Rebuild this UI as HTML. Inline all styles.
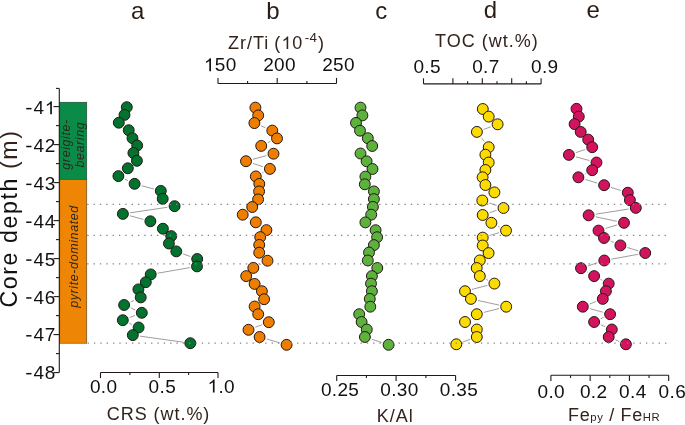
<!DOCTYPE html>
<html><head><meta charset="utf-8"><style>
html,body{margin:0;padding:0;background:#fff;}
svg{display:block;will-change:transform;}
text{font-family:"Liberation Sans",sans-serif;}
.tl{font-size:19px;fill:#111;letter-spacing:0.35px;}
.at{font-size:18px;fill:#33231b;}
.sub{font-size:11.3px;}
.sup{font-size:13.4px;}
.lt{font-size:24px;fill:#2b1c14;}
.bx{font-size:12.5px;font-style:italic;fill:#30261e;}
.yl{font-size:23.2px;fill:#111;}
</style></head><body>
<svg width="685" height="425" viewBox="0 0 685 425">
<rect width="685" height="425" fill="#fff"/>
<rect x="59.8" y="102.2" width="27" height="77.2" fill="#0a8b47" stroke="#2a2a2a" stroke-width="0.5"/>
<rect x="59.8" y="179.4" width="27" height="163.8" fill="#ee8505" stroke="#2a2a2a" stroke-width="0.5"/>
<text transform="translate(70.4,144.4) rotate(-90)" class="bx" letter-spacing="0.6" text-anchor="middle">greigite-</text>
<text transform="translate(84,144.6) rotate(-90)" class="bx" letter-spacing="0.6" text-anchor="middle">bearing</text>
<text transform="translate(78.4,256.5) rotate(-90)" class="bx" letter-spacing="0.6" text-anchor="middle">pyrite-dominated</text>
<line x1="59.3" y1="88.4" x2="59.3" y2="372.6" stroke="#231815" stroke-width="1.1"/>
<line x1="56" y1="88.4" x2="59.3" y2="88.4" stroke="#231815" stroke-width="1.1"/>
<line x1="53.5" y1="106.6" x2="59.3" y2="106.6" stroke="#231815" stroke-width="1.1"/>
<line x1="56" y1="125.6" x2="59.3" y2="125.6" stroke="#231815" stroke-width="1.1"/>
<rect x="26.2" y="107.9" width="5.3" height="1.5" fill="#111"/>
<text x="33.5 44.8" y="114.25" class="tl">4 </text>
<path transform="translate(44.8 114.25) scale(0.009277 -0.009277)" d="M763 0H583V1098Q440 970 223 883V1050Q520 1190 647 1409H763Z" fill="#111"/>
<line x1="53.5" y1="144.6" x2="59.3" y2="144.6" stroke="#231815" stroke-width="1.1"/>
<line x1="56" y1="163.6" x2="59.3" y2="163.6" stroke="#231815" stroke-width="1.1"/>
<rect x="26.2" y="145.76" width="5.3" height="1.5" fill="#111"/>
<text x="33.5 44.8" y="152.11" class="tl">42</text>
<line x1="53.5" y1="182.6" x2="59.3" y2="182.6" stroke="#231815" stroke-width="1.1"/>
<line x1="56" y1="201.6" x2="59.3" y2="201.6" stroke="#231815" stroke-width="1.1"/>
<rect x="26.2" y="183.62" width="5.3" height="1.5" fill="#111"/>
<text x="33.5 44.8" y="189.97" class="tl">43</text>
<line x1="53.5" y1="220.6" x2="59.3" y2="220.6" stroke="#231815" stroke-width="1.1"/>
<line x1="56" y1="239.6" x2="59.3" y2="239.6" stroke="#231815" stroke-width="1.1"/>
<rect x="26.2" y="221.48" width="5.3" height="1.5" fill="#111"/>
<text x="33.5 44.8" y="227.83" class="tl">44</text>
<line x1="53.5" y1="258.6" x2="59.3" y2="258.6" stroke="#231815" stroke-width="1.1"/>
<line x1="56" y1="277.6" x2="59.3" y2="277.6" stroke="#231815" stroke-width="1.1"/>
<rect x="26.2" y="259.34" width="5.3" height="1.5" fill="#111"/>
<text x="33.5 44.8" y="265.69" class="tl">45</text>
<line x1="53.5" y1="296.6" x2="59.3" y2="296.6" stroke="#231815" stroke-width="1.1"/>
<line x1="56" y1="315.6" x2="59.3" y2="315.6" stroke="#231815" stroke-width="1.1"/>
<rect x="26.2" y="297.2" width="5.3" height="1.5" fill="#111"/>
<text x="33.5 44.8" y="303.55" class="tl">46</text>
<line x1="53.5" y1="334.6" x2="59.3" y2="334.6" stroke="#231815" stroke-width="1.1"/>
<line x1="56" y1="353.6" x2="59.3" y2="353.6" stroke="#231815" stroke-width="1.1"/>
<rect x="26.2" y="335.06" width="5.3" height="1.5" fill="#111"/>
<text x="33.5 44.8" y="341.41" class="tl">47</text>
<line x1="53.5" y1="372.6" x2="59.3" y2="372.6" stroke="#231815" stroke-width="1.1"/>
<rect x="26.2" y="372.92" width="5.3" height="1.5" fill="#111"/>
<text x="33.5 44.8" y="379.27" class="tl">48</text>
<text transform="translate(17.4,218.5) rotate(-90)" class="yl" letter-spacing="1.58" text-anchor="middle">Core depth <tspan fill="#33231b">(m)</tspan></text>
<line x1="100.5" y1="372.5" x2="218" y2="372.5" stroke="#231815" stroke-width="1.1"/>
<line x1="100.5" y1="372.5" x2="100.5" y2="378.1" stroke="#231815" stroke-width="1.1"/>
<line x1="129.9" y1="372.5" x2="129.9" y2="375.1" stroke="#231815" stroke-width="1.1"/>
<line x1="159.3" y1="372.5" x2="159.3" y2="378.1" stroke="#231815" stroke-width="1.1"/>
<line x1="188.6" y1="372.5" x2="188.6" y2="375.1" stroke="#231815" stroke-width="1.1"/>
<line x1="218" y1="372.5" x2="218" y2="378.1" stroke="#231815" stroke-width="1.1"/>
<text x="89.9" y="392.5" class="tl">0.0</text>
<text x="148.6" y="392.5" class="tl">0.5</text>
<text x="207.5" y="392.5" class="tl"> .0</text>
<path transform="translate(207.5 392.5) scale(0.009277 -0.009277)" d="M763 0H583V1098Q440 970 223 883V1050Q520 1190 647 1409H763Z" fill="#111"/>
<line x1="218" y1="83.5" x2="336.5" y2="83.5" stroke="#231815" stroke-width="1.1"/>
<line x1="218" y1="83.5" x2="218" y2="77.9" stroke="#231815" stroke-width="1.1"/>
<line x1="247.6" y1="83.5" x2="247.6" y2="80.9" stroke="#231815" stroke-width="1.1"/>
<line x1="277.2" y1="83.5" x2="277.2" y2="77.9" stroke="#231815" stroke-width="1.1"/>
<line x1="306.9" y1="83.5" x2="306.9" y2="80.9" stroke="#231815" stroke-width="1.1"/>
<line x1="336.5" y1="83.5" x2="336.5" y2="77.9" stroke="#231815" stroke-width="1.1"/>
<text x="203.9" y="71.2" class="tl"> 50</text>
<path transform="translate(203.9 71.2) scale(0.009277 -0.009277)" d="M763 0H583V1098Q440 970 223 883V1050Q520 1190 647 1409H763Z" fill="#111"/>
<text x="263.2" y="71.2" class="tl">200</text>
<text x="322.2" y="71.2" class="tl">250</text>
<line x1="336.7" y1="375.5" x2="455.6" y2="375.5" stroke="#231815" stroke-width="1.1"/>
<line x1="336.7" y1="375.5" x2="336.7" y2="381.1" stroke="#231815" stroke-width="1.1"/>
<line x1="366.4" y1="375.5" x2="366.4" y2="378.1" stroke="#231815" stroke-width="1.1"/>
<line x1="396.1" y1="375.5" x2="396.1" y2="381.1" stroke="#231815" stroke-width="1.1"/>
<line x1="425.9" y1="375.5" x2="425.9" y2="378.1" stroke="#231815" stroke-width="1.1"/>
<line x1="455.6" y1="375.5" x2="455.6" y2="381.1" stroke="#231815" stroke-width="1.1"/>
<text x="320.9" y="396.4" class="tl">0.25</text>
<text x="380.3" y="396.4" class="tl">0.30</text>
<text x="439.8" y="396.4" class="tl">0.35</text>
<line x1="423.5" y1="83.9" x2="541.1" y2="83.9" stroke="#231815" stroke-width="1.1"/>
<line x1="423.5" y1="83.9" x2="423.5" y2="78.3" stroke="#231815" stroke-width="1.1"/>
<line x1="452.9" y1="83.9" x2="452.9" y2="78.3" stroke="#231815" stroke-width="1.1"/>
<line x1="467.6" y1="83.9" x2="467.6" y2="81.3" stroke="#231815" stroke-width="1.1"/>
<line x1="482.3" y1="83.9" x2="482.3" y2="78.3" stroke="#231815" stroke-width="1.1"/>
<line x1="497" y1="83.9" x2="497" y2="81.3" stroke="#231815" stroke-width="1.1"/>
<line x1="511.7" y1="83.9" x2="511.7" y2="78.3" stroke="#231815" stroke-width="1.1"/>
<line x1="526.4" y1="83.9" x2="526.4" y2="81.3" stroke="#231815" stroke-width="1.1"/>
<line x1="541.1" y1="83.9" x2="541.1" y2="78.3" stroke="#231815" stroke-width="1.1"/>
<text x="413.4" y="73.3" class="tl">0.5</text>
<text x="472.2" y="73.3" class="tl">0.7</text>
<text x="531" y="73.3" class="tl">0.9</text>
<line x1="550.9" y1="375.3" x2="668.7" y2="375.3" stroke="#231815" stroke-width="1.1"/>
<line x1="550.9" y1="375.3" x2="550.9" y2="380.9" stroke="#231815" stroke-width="1.1"/>
<line x1="570.53" y1="375.3" x2="570.53" y2="377.9" stroke="#231815" stroke-width="1.1"/>
<line x1="590.16" y1="375.3" x2="590.16" y2="380.9" stroke="#231815" stroke-width="1.1"/>
<line x1="609.79" y1="375.3" x2="609.79" y2="377.9" stroke="#231815" stroke-width="1.1"/>
<line x1="629.42" y1="375.3" x2="629.42" y2="380.9" stroke="#231815" stroke-width="1.1"/>
<line x1="649.05" y1="375.3" x2="649.05" y2="377.9" stroke="#231815" stroke-width="1.1"/>
<line x1="668.68" y1="375.3" x2="668.68" y2="380.9" stroke="#231815" stroke-width="1.1"/>
<text x="537.5" y="397.5" class="tl">0.0</text>
<text x="579.9" y="397.5" class="tl">0.2</text>
<text x="619.1" y="397.5" class="tl">0.4</text>
<text x="658.6" y="397.5" class="tl">0.6</text>
<text x="106.8" y="420.2" class="at" letter-spacing="0.95">CRS (wt.%)</text>
<text x="376.7" y="421.6" class="at" letter-spacing="1.0">K/Al</text>
<text x="568.0" y="420.6" class="at" letter-spacing="0.65">Fe<tspan class="sub">py</tspan> / Fe<tspan class="sub">HR</tspan></text>
<path transform="translate(281.5 49) scale(0.008789 -0.008789)" d="M763 0H583V1098Q440 970 223 883V1050Q520 1190 647 1409H763Z" fill="#33231b"/>
<text x="227.9" y="49" class="at" letter-spacing="1.0">Zr/Ti <tspan dx="-1.1">(</tspan> 0<tspan class="sup" dx="1.6" dy="-7.2" letter-spacing="0.4">-4</tspan><tspan dx="0.4" dy="7.2">)</tspan></text>
<text x="435.0" y="47.3" class="at" letter-spacing="1.0">TOC (wt.%)</text>
<text x="137.7" y="19.4" class="lt" text-anchor="middle">a</text>
<text x="273" y="19.3" class="lt" text-anchor="middle">b</text>
<text x="381.2" y="19.4" class="lt" text-anchor="middle">c</text>
<text x="490.5" y="18.3" class="lt" text-anchor="middle">d</text>
<text x="593.2" y="18.3" class="lt" text-anchor="middle">e</text>
<path d="M124.95 179.21L128.05 180.69M141.6 185.7L153.8 189M167.43 207.27L130.07 212.83M129.9 215.78L143.4 219.42M183.11 253.88L190.39 256.52M189.86 267.63L157.84 273.17M134.11 300.42L130.69 301.98M130.73 307.92L135.17 309.88M135.04 315.43L129.56 317.57M129.38 323.24L132.02 324.46M139.98 336.11L183.12 342.19" fill="none" stroke="#6e6664" stroke-width="0.65"/>
<circle cx="126.8" cy="107.2" r="5.45" fill="#02732f" stroke="#231815" stroke-width="1.0"/>
<circle cx="124.5" cy="114.9" r="5.45" fill="#02732f" stroke="#231815" stroke-width="1.0"/>
<circle cx="118.8" cy="122.7" r="5.45" fill="#02732f" stroke="#231815" stroke-width="1.0"/>
<circle cx="128.7" cy="130.2" r="5.45" fill="#02732f" stroke="#231815" stroke-width="1.0"/>
<circle cx="132.5" cy="138.2" r="5.45" fill="#02732f" stroke="#231815" stroke-width="1.0"/>
<circle cx="137.2" cy="145.5" r="5.45" fill="#02732f" stroke="#231815" stroke-width="1.0"/>
<circle cx="133.4" cy="153" r="5.45" fill="#02732f" stroke="#231815" stroke-width="1.0"/>
<circle cx="136.9" cy="160.8" r="5.45" fill="#02732f" stroke="#231815" stroke-width="1.0"/>
<circle cx="127.8" cy="168.3" r="5.45" fill="#02732f" stroke="#231815" stroke-width="1.0"/>
<circle cx="118.4" cy="176.1" r="5.45" fill="#02732f" stroke="#231815" stroke-width="1.0"/>
<circle cx="134.6" cy="183.8" r="5.45" fill="#02732f" stroke="#231815" stroke-width="1.0"/>
<circle cx="160.8" cy="190.9" r="5.45" fill="#02732f" stroke="#231815" stroke-width="1.0"/>
<circle cx="162.7" cy="198.8" r="5.45" fill="#02732f" stroke="#231815" stroke-width="1.0"/>
<circle cx="174.6" cy="206.2" r="5.45" fill="#02732f" stroke="#231815" stroke-width="1.0"/>
<circle cx="122.9" cy="213.9" r="5.45" fill="#02732f" stroke="#231815" stroke-width="1.0"/>
<circle cx="150.4" cy="221.3" r="5.45" fill="#02732f" stroke="#231815" stroke-width="1.0"/>
<circle cx="162.9" cy="228.7" r="5.45" fill="#02732f" stroke="#231815" stroke-width="1.0"/>
<circle cx="171.2" cy="236.1" r="5.45" fill="#02732f" stroke="#231815" stroke-width="1.0"/>
<circle cx="168.9" cy="243.5" r="5.45" fill="#02732f" stroke="#231815" stroke-width="1.0"/>
<circle cx="176.3" cy="251.4" r="5.45" fill="#02732f" stroke="#231815" stroke-width="1.0"/>
<circle cx="197.2" cy="259" r="5.45" fill="#02732f" stroke="#231815" stroke-width="1.0"/>
<circle cx="197" cy="266.4" r="5.45" fill="#02732f" stroke="#231815" stroke-width="1.0"/>
<circle cx="150.7" cy="274.4" r="5.45" fill="#02732f" stroke="#231815" stroke-width="1.0"/>
<circle cx="145.8" cy="282.2" r="5.45" fill="#02732f" stroke="#231815" stroke-width="1.0"/>
<circle cx="138.4" cy="289.4" r="5.45" fill="#02732f" stroke="#231815" stroke-width="1.0"/>
<circle cx="140.7" cy="297.4" r="5.45" fill="#02732f" stroke="#231815" stroke-width="1.0"/>
<circle cx="124.1" cy="305" r="5.45" fill="#02732f" stroke="#231815" stroke-width="1.0"/>
<circle cx="141.8" cy="312.8" r="5.45" fill="#02732f" stroke="#231815" stroke-width="1.0"/>
<circle cx="122.8" cy="320.2" r="5.45" fill="#02732f" stroke="#231815" stroke-width="1.0"/>
<circle cx="138.6" cy="327.5" r="5.45" fill="#02732f" stroke="#231815" stroke-width="1.0"/>
<circle cx="132.8" cy="335.1" r="5.45" fill="#02732f" stroke="#231815" stroke-width="1.0"/>
<circle cx="190.3" cy="343.2" r="5.45" fill="#02732f" stroke="#231815" stroke-width="1.0"/>
<path d="M261.09 125.9L265.61 127.8M270.45 141.51L267.75 142.79M266.51 155.61L252.99 159.29M252.9 163.42L263 166.68M263.5 172.3L262.2 173M248.97 218.34L249.53 218.66M261.03 263.98L259.77 264.62M262.01 324.74L255.29 327.26M266.57 339.01L279.63 342.79" fill="none" stroke="#6e6664" stroke-width="0.65"/>
<circle cx="255.4" cy="107.6" r="5.45" fill="#ee7d00" stroke="#231815" stroke-width="1.0"/>
<circle cx="258.2" cy="115.4" r="5.45" fill="#ee7d00" stroke="#231815" stroke-width="1.0"/>
<circle cx="254.4" cy="123.1" r="5.45" fill="#ee7d00" stroke="#231815" stroke-width="1.0"/>
<circle cx="272.3" cy="130.6" r="5.45" fill="#ee7d00" stroke="#231815" stroke-width="1.0"/>
<circle cx="277" cy="138.4" r="5.45" fill="#ee7d00" stroke="#231815" stroke-width="1.0"/>
<circle cx="261.2" cy="145.9" r="5.45" fill="#ee7d00" stroke="#231815" stroke-width="1.0"/>
<circle cx="273.5" cy="153.7" r="5.45" fill="#ee7d00" stroke="#231815" stroke-width="1.0"/>
<circle cx="246" cy="161.2" r="5.45" fill="#ee7d00" stroke="#231815" stroke-width="1.0"/>
<circle cx="269.9" cy="168.9" r="5.45" fill="#ee7d00" stroke="#231815" stroke-width="1.0"/>
<circle cx="255.8" cy="176.4" r="5.45" fill="#ee7d00" stroke="#231815" stroke-width="1.0"/>
<circle cx="259.3" cy="183.9" r="5.45" fill="#ee7d00" stroke="#231815" stroke-width="1.0"/>
<circle cx="259.1" cy="191.4" r="5.45" fill="#ee7d00" stroke="#231815" stroke-width="1.0"/>
<circle cx="258.1" cy="199.4" r="5.45" fill="#ee7d00" stroke="#231815" stroke-width="1.0"/>
<circle cx="252.2" cy="207" r="5.45" fill="#ee7d00" stroke="#231815" stroke-width="1.0"/>
<circle cx="242.7" cy="214.7" r="5.45" fill="#ee7d00" stroke="#231815" stroke-width="1.0"/>
<circle cx="255.8" cy="222.3" r="5.45" fill="#ee7d00" stroke="#231815" stroke-width="1.0"/>
<circle cx="266.4" cy="230.1" r="5.45" fill="#ee7d00" stroke="#231815" stroke-width="1.0"/>
<circle cx="260.2" cy="237.1" r="5.45" fill="#ee7d00" stroke="#231815" stroke-width="1.0"/>
<circle cx="259.2" cy="244.9" r="5.45" fill="#ee7d00" stroke="#231815" stroke-width="1.0"/>
<circle cx="259.2" cy="252.7" r="5.45" fill="#ee7d00" stroke="#231815" stroke-width="1.0"/>
<circle cx="267.5" cy="260.7" r="5.45" fill="#ee7d00" stroke="#231815" stroke-width="1.0"/>
<circle cx="253.3" cy="267.9" r="5.45" fill="#ee7d00" stroke="#231815" stroke-width="1.0"/>
<circle cx="246.2" cy="276.1" r="5.45" fill="#ee7d00" stroke="#231815" stroke-width="1.0"/>
<circle cx="254.6" cy="283.9" r="5.45" fill="#ee7d00" stroke="#231815" stroke-width="1.0"/>
<circle cx="261.9" cy="291.2" r="5.45" fill="#ee7d00" stroke="#231815" stroke-width="1.0"/>
<circle cx="264.1" cy="299.2" r="5.45" fill="#ee7d00" stroke="#231815" stroke-width="1.0"/>
<circle cx="254.6" cy="306.5" r="5.45" fill="#ee7d00" stroke="#231815" stroke-width="1.0"/>
<circle cx="258.2" cy="314.2" r="5.45" fill="#ee7d00" stroke="#231815" stroke-width="1.0"/>
<circle cx="268.8" cy="322.2" r="5.45" fill="#ee7d00" stroke="#231815" stroke-width="1.0"/>
<circle cx="248.5" cy="329.8" r="5.45" fill="#ee7d00" stroke="#231815" stroke-width="1.0"/>
<circle cx="259.6" cy="337" r="5.45" fill="#ee7d00" stroke="#231815" stroke-width="1.0"/>
<circle cx="286.6" cy="344.8" r="5.45" fill="#ee7d00" stroke="#231815" stroke-width="1.0"/>
<path d="M371.79 339.27L381.71 342.53" fill="none" stroke="#6e6664" stroke-width="0.65"/>
<circle cx="360.5" cy="107.6" r="5.45" fill="#5db23d" stroke="#231815" stroke-width="1.0"/>
<circle cx="362.4" cy="115.4" r="5.45" fill="#5db23d" stroke="#231815" stroke-width="1.0"/>
<circle cx="356" cy="122.9" r="5.45" fill="#5db23d" stroke="#231815" stroke-width="1.0"/>
<circle cx="360" cy="130.7" r="5.45" fill="#5db23d" stroke="#231815" stroke-width="1.0"/>
<circle cx="367.8" cy="138.2" r="5.45" fill="#5db23d" stroke="#231815" stroke-width="1.0"/>
<circle cx="372.2" cy="146" r="5.45" fill="#5db23d" stroke="#231815" stroke-width="1.0"/>
<circle cx="360.5" cy="153.5" r="5.45" fill="#5db23d" stroke="#231815" stroke-width="1.0"/>
<circle cx="366.6" cy="161.3" r="5.45" fill="#5db23d" stroke="#231815" stroke-width="1.0"/>
<circle cx="372.5" cy="169" r="5.45" fill="#5db23d" stroke="#231815" stroke-width="1.0"/>
<circle cx="365.4" cy="176.6" r="5.45" fill="#5db23d" stroke="#231815" stroke-width="1.0"/>
<circle cx="364.8" cy="184.3" r="5.45" fill="#5db23d" stroke="#231815" stroke-width="1.0"/>
<circle cx="373.9" cy="191.4" r="5.45" fill="#5db23d" stroke="#231815" stroke-width="1.0"/>
<circle cx="373.9" cy="199.1" r="5.45" fill="#5db23d" stroke="#231815" stroke-width="1.0"/>
<circle cx="372.9" cy="206.9" r="5.45" fill="#5db23d" stroke="#231815" stroke-width="1.0"/>
<circle cx="371.2" cy="214.7" r="5.45" fill="#5db23d" stroke="#231815" stroke-width="1.0"/>
<circle cx="365.4" cy="222.4" r="5.45" fill="#5db23d" stroke="#231815" stroke-width="1.0"/>
<circle cx="375.6" cy="230.2" r="5.45" fill="#5db23d" stroke="#231815" stroke-width="1.0"/>
<circle cx="377.1" cy="237.2" r="5.45" fill="#5db23d" stroke="#231815" stroke-width="1.0"/>
<circle cx="373.9" cy="245.1" r="5.45" fill="#5db23d" stroke="#231815" stroke-width="1.0"/>
<circle cx="369" cy="252.5" r="5.45" fill="#5db23d" stroke="#231815" stroke-width="1.0"/>
<circle cx="367.8" cy="260.5" r="5.45" fill="#5db23d" stroke="#231815" stroke-width="1.0"/>
<circle cx="377.3" cy="268" r="5.45" fill="#5db23d" stroke="#231815" stroke-width="1.0"/>
<circle cx="371.9" cy="276.1" r="5.45" fill="#5db23d" stroke="#231815" stroke-width="1.0"/>
<circle cx="371" cy="283.6" r="5.45" fill="#5db23d" stroke="#231815" stroke-width="1.0"/>
<circle cx="371.9" cy="291.2" r="5.45" fill="#5db23d" stroke="#231815" stroke-width="1.0"/>
<circle cx="369.8" cy="298.9" r="5.45" fill="#5db23d" stroke="#231815" stroke-width="1.0"/>
<circle cx="370.3" cy="306.7" r="5.45" fill="#5db23d" stroke="#231815" stroke-width="1.0"/>
<circle cx="359.2" cy="314.2" r="5.45" fill="#5db23d" stroke="#231815" stroke-width="1.0"/>
<circle cx="361.6" cy="322" r="5.45" fill="#5db23d" stroke="#231815" stroke-width="1.0"/>
<circle cx="366.8" cy="329.5" r="5.45" fill="#5db23d" stroke="#231815" stroke-width="1.0"/>
<circle cx="364.9" cy="337" r="5.45" fill="#5db23d" stroke="#231815" stroke-width="1.0"/>
<circle cx="388.6" cy="344.8" r="5.45" fill="#5db23d" stroke="#231815" stroke-width="1.0"/>
<path d="M490.79 126.8L483.71 129.4M481.33 137.64L484.27 141.46M489.13 202.92L496.67 205.58M496.63 210.31L489.57 212.69M497.79 226.22L499.61 227.18M499.06 232.69L489.64 235.51M486.25 279.41L487.95 280.29M487.38 285.41L472.02 289.39M477.98 300.46L499.12 305.14M499.17 308.49L483.83 312.41M469.97 339.43L463.13 341.87" fill="none" stroke="#6e6664" stroke-width="0.65"/>
<circle cx="482.8" cy="109" r="5.45" fill="#fcdb00" stroke="#231815" stroke-width="1.0"/>
<circle cx="488.7" cy="116.6" r="5.45" fill="#fcdb00" stroke="#231815" stroke-width="1.0"/>
<circle cx="497.6" cy="124.3" r="5.45" fill="#fcdb00" stroke="#231815" stroke-width="1.0"/>
<circle cx="476.9" cy="131.9" r="5.45" fill="#fcdb00" stroke="#231815" stroke-width="1.0"/>
<circle cx="488.7" cy="147.2" r="5.45" fill="#fcdb00" stroke="#231815" stroke-width="1.0"/>
<circle cx="485.4" cy="154.7" r="5.45" fill="#fcdb00" stroke="#231815" stroke-width="1.0"/>
<circle cx="488.7" cy="162.5" r="5.45" fill="#fcdb00" stroke="#231815" stroke-width="1.0"/>
<circle cx="485.4" cy="170" r="5.45" fill="#fcdb00" stroke="#231815" stroke-width="1.0"/>
<circle cx="482.6" cy="177.3" r="5.45" fill="#fcdb00" stroke="#231815" stroke-width="1.0"/>
<circle cx="485.4" cy="185" r="5.45" fill="#fcdb00" stroke="#231815" stroke-width="1.0"/>
<circle cx="494.4" cy="192.4" r="5.45" fill="#fcdb00" stroke="#231815" stroke-width="1.0"/>
<circle cx="482.3" cy="200.5" r="5.45" fill="#fcdb00" stroke="#231815" stroke-width="1.0"/>
<circle cx="503.5" cy="208" r="5.45" fill="#fcdb00" stroke="#231815" stroke-width="1.0"/>
<circle cx="482.7" cy="215" r="5.45" fill="#fcdb00" stroke="#231815" stroke-width="1.0"/>
<circle cx="491.4" cy="222.8" r="5.45" fill="#fcdb00" stroke="#231815" stroke-width="1.0"/>
<circle cx="506" cy="230.6" r="5.45" fill="#fcdb00" stroke="#231815" stroke-width="1.0"/>
<circle cx="482.7" cy="237.6" r="5.45" fill="#fcdb00" stroke="#231815" stroke-width="1.0"/>
<circle cx="482.7" cy="245.5" r="5.45" fill="#fcdb00" stroke="#231815" stroke-width="1.0"/>
<circle cx="488.6" cy="253.1" r="5.45" fill="#fcdb00" stroke="#231815" stroke-width="1.0"/>
<circle cx="479.8" cy="260.4" r="5.45" fill="#fcdb00" stroke="#231815" stroke-width="1.0"/>
<circle cx="476.7" cy="268" r="5.45" fill="#fcdb00" stroke="#231815" stroke-width="1.0"/>
<circle cx="479.8" cy="276.1" r="5.45" fill="#fcdb00" stroke="#231815" stroke-width="1.0"/>
<circle cx="494.4" cy="283.6" r="5.45" fill="#fcdb00" stroke="#231815" stroke-width="1.0"/>
<circle cx="465" cy="291.2" r="5.45" fill="#fcdb00" stroke="#231815" stroke-width="1.0"/>
<circle cx="470.9" cy="298.9" r="5.45" fill="#fcdb00" stroke="#231815" stroke-width="1.0"/>
<circle cx="506.2" cy="306.7" r="5.45" fill="#fcdb00" stroke="#231815" stroke-width="1.0"/>
<circle cx="476.8" cy="314.2" r="5.45" fill="#fcdb00" stroke="#231815" stroke-width="1.0"/>
<circle cx="465" cy="322" r="5.45" fill="#fcdb00" stroke="#231815" stroke-width="1.0"/>
<circle cx="476.8" cy="329.5" r="5.45" fill="#fcdb00" stroke="#231815" stroke-width="1.0"/>
<circle cx="476.8" cy="337" r="5.45" fill="#fcdb00" stroke="#231815" stroke-width="1.0"/>
<circle cx="456.3" cy="344.3" r="5.45" fill="#fcdb00" stroke="#231815" stroke-width="1.0"/>
<path d="M585.32 149.47L575.78 152.63M575.89 156.82L589.51 160.58M585.75 173.52L584.85 173.98M585.33 179.43L597.17 183.07M611.01 187.39L620.89 190.51M628.64 209.02L595.76 214.18M595.69 216.8L616.91 221.3M617.07 224.92L605.43 228.48M610.61 240.98L613.79 242.42M627.33 247.52L638.27 250.88M638.07 254.31L611.43 259.19M597.42 262.77L587.88 265.93M587.21 271.94L587.89 272.36M600.55 279.41L602.25 280.29M596.05 301.53L589.55 304.07M589.79 308.62L603.11 312.28M603.58 317.38L600.62 318.82M600.78 324.83L605.12 326.67M615.37 339.83L619.23 341.47" fill="none" stroke="#6e6664" stroke-width="0.65"/>
<circle cx="576.5" cy="108.8" r="5.45" fill="#d3135e" stroke="#231815" stroke-width="1.0"/>
<circle cx="578.8" cy="116.6" r="5.45" fill="#d3135e" stroke="#231815" stroke-width="1.0"/>
<circle cx="574.6" cy="124.1" r="5.45" fill="#d3135e" stroke="#231815" stroke-width="1.0"/>
<circle cx="580.7" cy="131.9" r="5.45" fill="#d3135e" stroke="#231815" stroke-width="1.0"/>
<circle cx="588.2" cy="139.6" r="5.45" fill="#d3135e" stroke="#231815" stroke-width="1.0"/>
<circle cx="592.2" cy="147.2" r="5.45" fill="#d3135e" stroke="#231815" stroke-width="1.0"/>
<circle cx="568.9" cy="154.9" r="5.45" fill="#d3135e" stroke="#231815" stroke-width="1.0"/>
<circle cx="596.5" cy="162.5" r="5.45" fill="#d3135e" stroke="#231815" stroke-width="1.0"/>
<circle cx="592.2" cy="170.2" r="5.45" fill="#d3135e" stroke="#231815" stroke-width="1.0"/>
<circle cx="578.4" cy="177.3" r="5.45" fill="#d3135e" stroke="#231815" stroke-width="1.0"/>
<circle cx="604.1" cy="185.2" r="5.45" fill="#d3135e" stroke="#231815" stroke-width="1.0"/>
<circle cx="627.8" cy="192.7" r="5.45" fill="#d3135e" stroke="#231815" stroke-width="1.0"/>
<circle cx="629.9" cy="200.1" r="5.45" fill="#d3135e" stroke="#231815" stroke-width="1.0"/>
<circle cx="635.8" cy="207.9" r="5.45" fill="#d3135e" stroke="#231815" stroke-width="1.0"/>
<circle cx="588.6" cy="215.3" r="5.45" fill="#d3135e" stroke="#231815" stroke-width="1.0"/>
<circle cx="624" cy="222.8" r="5.45" fill="#d3135e" stroke="#231815" stroke-width="1.0"/>
<circle cx="598.5" cy="230.6" r="5.45" fill="#d3135e" stroke="#231815" stroke-width="1.0"/>
<circle cx="604" cy="238" r="5.45" fill="#d3135e" stroke="#231815" stroke-width="1.0"/>
<circle cx="620.4" cy="245.4" r="5.45" fill="#d3135e" stroke="#231815" stroke-width="1.0"/>
<circle cx="645.2" cy="253" r="5.45" fill="#d3135e" stroke="#231815" stroke-width="1.0"/>
<circle cx="604.3" cy="260.5" r="5.45" fill="#d3135e" stroke="#231815" stroke-width="1.0"/>
<circle cx="581" cy="268.2" r="5.45" fill="#d3135e" stroke="#231815" stroke-width="1.0"/>
<circle cx="594.1" cy="276.1" r="5.45" fill="#d3135e" stroke="#231815" stroke-width="1.0"/>
<circle cx="608.7" cy="283.6" r="5.45" fill="#d3135e" stroke="#231815" stroke-width="1.0"/>
<circle cx="605.9" cy="291.2" r="5.45" fill="#d3135e" stroke="#231815" stroke-width="1.0"/>
<circle cx="602.8" cy="298.9" r="5.45" fill="#d3135e" stroke="#231815" stroke-width="1.0"/>
<circle cx="582.8" cy="306.7" r="5.45" fill="#d3135e" stroke="#231815" stroke-width="1.0"/>
<circle cx="610.1" cy="314.2" r="5.45" fill="#d3135e" stroke="#231815" stroke-width="1.0"/>
<circle cx="594.1" cy="322" r="5.45" fill="#d3135e" stroke="#231815" stroke-width="1.0"/>
<circle cx="611.8" cy="329.5" r="5.45" fill="#d3135e" stroke="#231815" stroke-width="1.0"/>
<circle cx="608.7" cy="337" r="5.45" fill="#d3135e" stroke="#231815" stroke-width="1.0"/>
<circle cx="625.9" cy="344.3" r="5.45" fill="#d3135e" stroke="#231815" stroke-width="1.0"/>
<line x1="87.2" y1="204.3" x2="667" y2="204.3" stroke="#858585" stroke-width="1.35" stroke-dasharray="1.35 4.995"/>
<line x1="87.2" y1="235.4" x2="667" y2="235.4" stroke="#858585" stroke-width="1.35" stroke-dasharray="1.35 4.995"/>
<line x1="87.2" y1="263.9" x2="667" y2="263.9" stroke="#858585" stroke-width="1.35" stroke-dasharray="1.35 4.995"/>
<line x1="87.6" y1="343.1" x2="667" y2="343.1" stroke="#858585" stroke-width="1.35" stroke-dasharray="1.35 4.995"/>
</svg>
</body></html>
